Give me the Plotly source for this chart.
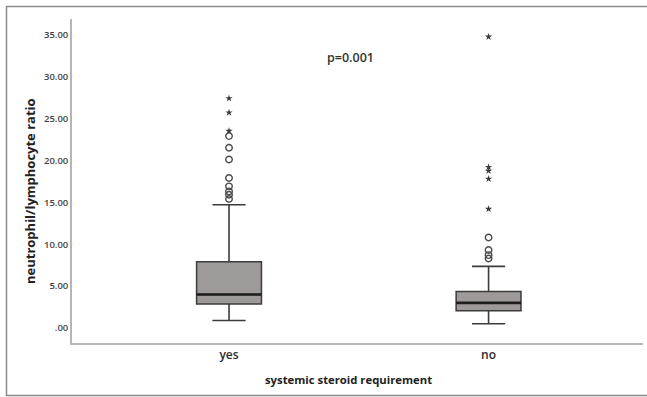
import plotly.graph_objects as go

# ---- data ----
categories = ["yes", "no"]
cat_pos = [0, 1]
q1 = [2.86, 2.06]
median = [4.0, 3.0]
q3 = [7.9, 4.36]
lower_fence = [0.9, 0.5]
upper_fence = [14.7, 7.35]

yes_circles = [22.9, 21.5, 20.1, 17.9, 16.9, 16.3, 15.9, 15.4]
yes_stars = [27.4, 25.7, 23.5]
no_circles = [10.8, 9.3, 8.7, 8.3]
no_stars = [34.75, 19.2, 18.75, 17.8, 14.2]

y_tickvals = [0, 5, 10, 15, 20, 25, 30, 35]
y_ticktext = [".00", "5.00", "10.00", "15.00", "20.00", "25.00", "30.00", "35.00"]
p_text = "p=0.001"

# ---- style ----
FONT = "Open Sans"
BOX_FILL = "#9f9a9a"
BOX_LINE = "#3c3c3c"
AXIS_LINE = "#b5b5b5"
BOX_W = 0.25
CAP_HW = 0.064

fig = go.Figure()

# whiskers + caps
for i, p in enumerate(cat_pos):
    fig.add_trace(go.Scatter(
        x=[p, p, None, p, p, None, p - CAP_HW, p + CAP_HW, None, p - CAP_HW, p + CAP_HW],
        y=[q3[i], upper_fence[i], None, q1[i], lower_fence[i], None,
           upper_fence[i], upper_fence[i], None, lower_fence[i], lower_fence[i]],
        mode="lines", line=dict(color=BOX_LINE, width=1.6),
        showlegend=False, hoverinfo="skip"))

# boxes
fig.add_trace(go.Box(
    x=cat_pos, q1=q1, median=median, q3=q3,
    lowerfence=q1, upperfence=q3,
    width=BOX_W, fillcolor=BOX_FILL,
    line=dict(color=BOX_LINE, width=1.5),
    whiskerwidth=0, boxpoints=False, showlegend=False))

# median lines (thicker)
mx, my = [], []
for i, p in enumerate(cat_pos):
    mx += [p - BOX_W / 2, p + BOX_W / 2, None]
    my += [median[i], median[i], None]
fig.add_trace(go.Scatter(x=mx, y=my, mode="lines",
                         line=dict(color="#1e1e1e", width=2.6),
                         showlegend=False, hoverinfo="skip"))

# outliers
circ_x = [cat_pos[0]] * len(yes_circles) + [cat_pos[1]] * len(no_circles)
circ_y = yes_circles + no_circles
fig.add_trace(go.Scatter(x=circ_x, y=circ_y, mode="markers",
                         marker=dict(symbol="circle-open", size=6.5,
                                     color="#4a4a4a", line=dict(width=1.4)),
                         showlegend=False))
star_x = [cat_pos[0]] * len(yes_stars) + [cat_pos[1]] * len(no_stars)
star_y = yes_stars + no_stars
fig.add_trace(go.Scatter(x=star_x, y=star_y, mode="markers",
                         marker=dict(symbol="star", size=5.5, color="#3a3a3a"),
                         showlegend=False))

L, R, T, B = 72, 4, 19, 54
W, H = 647, 397
pw, ph = W - L - R, H - T - B


def px(x):
    return (x - L) / pw


def py(y):
    return (H - B - y) / ph


fig.update_layout(
    width=W, height=H,
    margin=dict(l=L, r=R, t=T, b=B),
    paper_bgcolor="white", plot_bgcolor="white",
    font=dict(family=FONT, color="#333333"),
    xaxis=dict(range=[-0.605, 1.595], tickvals=cat_pos, ticktext=categories,
               showgrid=False, zeroline=False, showline=True,
               linecolor=AXIS_LINE, linewidth=1.6, ticks="",
               tickfont=dict(size=12, color="#2a2a2a", family=FONT, weight=600)),
    yaxis=dict(range=[-1.79, 36.87], tickvals=y_tickvals, ticktext=y_ticktext,
               showgrid=False, zeroline=False, showline=True,
               linecolor=AXIS_LINE, linewidth=1.6, ticks="",
               tickfont=dict(size=9.5, color="#444444", family=FONT, weight=600)),
    shapes=[dict(type="rect", xref="paper", yref="paper",
                 x0=px(6.5), x1=px(652), y0=py(395.5), y1=py(6.5),
                 line=dict(color="#8a8a8a", width=1.5), fillcolor="rgba(0,0,0,0)",
                 layer="below")],
    annotations=[
        dict(text="<b>neutrophil/lymphocyte ratio</b>", xref="paper", yref="paper",
             x=px(30), y=py(191), xanchor="center", yanchor="middle",
             textangle=-90, showarrow=False,
             font=dict(size=13, color="#222222", family=FONT)),
        dict(text="<b>systemic steroid requirement</b>", xref="paper", yref="paper",
             x=px(348), y=py(379), xanchor="center", yanchor="middle",
             showarrow=False,
             font=dict(size=11.3, color="#222222", family=FONT)),
        dict(text=p_text, xref="paper", yref="paper",
             x=px(350), y=py(58), xanchor="center", yanchor="middle",
             showarrow=False,
             font=dict(size=12.5, color="#333333", family=FONT, weight=600)),
    ],
)

fig.write_html("out.html", config={"displayModeBar": False},
               post_script="document.body.style.margin='0';document.body.style.overflow='hidden';")
